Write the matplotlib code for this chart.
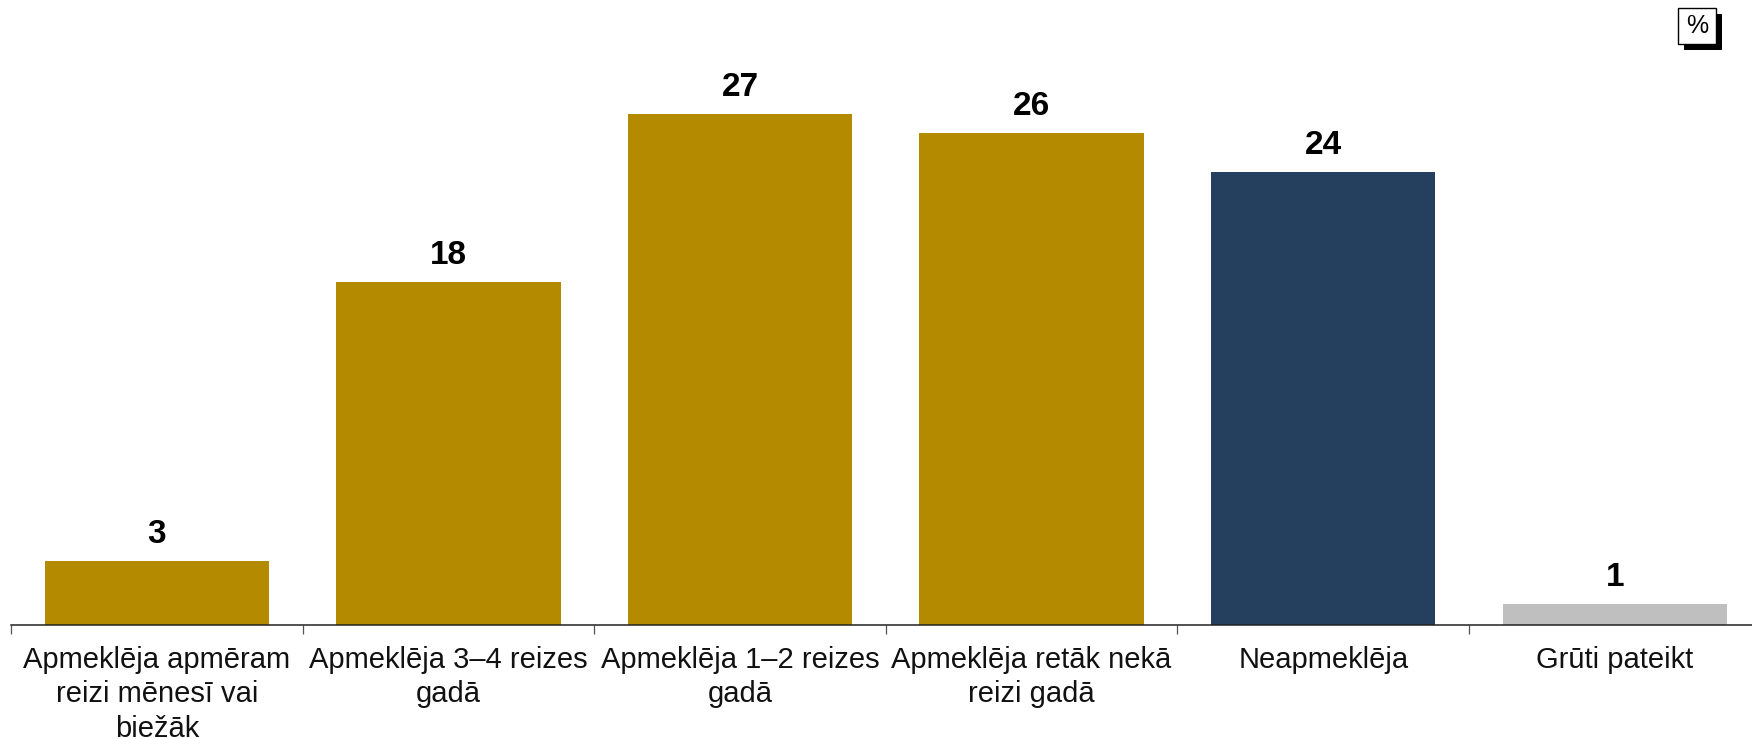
import numpy as np
import matplotlib
matplotlib.use("Agg")
import matplotlib.pyplot as plt
from matplotlib.patches import Rectangle

plt.rcParams['font.family'] = ['Liberation Sans', 'DejaVu Sans']

# data (bar heights as drawn, labels as printed)
categories = ["Apmeklēja apmēram\nreizi mēnesī vai\nbiežāk",
              "Apmeklēja 3–4 reizes\ngadā",
              "Apmeklēja 1–2 reizes\ngadā",
              "Apmeklēja retāk nekā\nreizi gadā",
              "Neapmeklēja",
              "Grūti pateikt"]
values = [3.4, 18.1, 27.0, 26.0, 23.9, 1.1]
labels = ["3", "18", "27", "26", "24", "1"]
colors = ["#B38A00", "#B38A00", "#B38A00", "#B38A00", "#253F5F", "#BFBFBF"]

W, H = 1752, 739
fig = plt.figure(figsize=(W / 100, H / 100), dpi=100)

# axes: baseline near y=625px, category width ~291.6px (spills a bit past right edge)
ax_left = 11 / W
ax_bottom = (H - 625) / H
ax_height = 568 / H
ax = fig.add_axes([ax_left, ax_bottom, 6 * 291.6 / W, ax_height])

x = np.arange(len(values))
ax.bar(x, values, width=0.77, color=colors, zorder=2)

for xi, v, lab in zip(x, values, labels):
    ax.annotate(lab, (xi, v), xytext=(0, 13), textcoords="offset points",
                ha="center", va="baseline", fontsize=24, fontweight="bold",
                color="black")

ax.set_xlim(-0.5, 5.5)
ax.set_ylim(0, 30)

for s in ["top", "right", "left"]:
    ax.spines[s].set_visible(False)
ax.spines["bottom"].set_color("#222222")
ax.spines["bottom"].set_linewidth(1.1)
ax.set_yticks([])

# boundary ticks (no labels) and centred category labels
ax.set_xticks(np.arange(-0.5, 5.0, 1.0))
ax.set_xticklabels([])
ax.tick_params(axis="x", which="major", length=6.5, width=0.9, color="#555555")
ax.set_xticks(x, minor=True)
ax.set_xticklabels(categories, minor=True, fontsize=21, color="#111111",
                   linespacing=1.3)
ax.tick_params(axis="x", which="minor", length=0, pad=15)

# "%" badge with drop shadow in the top right corner
shadow = Rectangle((1684 / W, 1 - 50 / H), 38 / W, 36 / H, transform=fig.transFigure,
                   facecolor="black", edgecolor="black", lw=0)
box = Rectangle((1678 / W, 1 - 44 / H), 38 / W, 36 / H, transform=fig.transFigure,
                facecolor="white", edgecolor="black", lw=1.0)
fig.patches.extend([shadow, box])
fig.text(1697 / W, 1 - 26 / H, "%", ha="center", va="center", fontsize=18)

fig.savefig("out.png", dpi=100)
